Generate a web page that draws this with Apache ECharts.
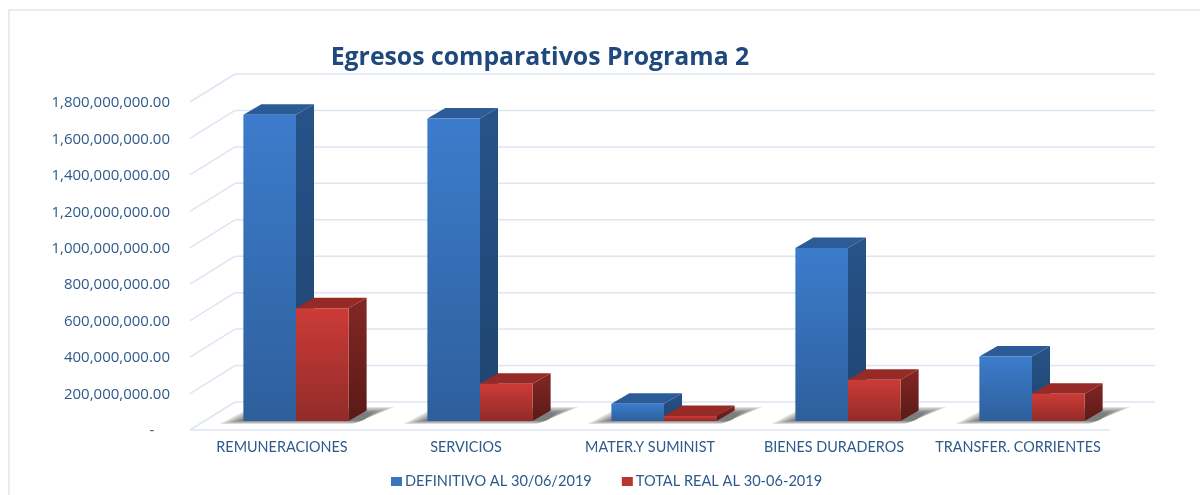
<!DOCTYPE html>
<html>
<head>
<meta charset="utf-8">
<title>Egresos comparativos Programa 2</title>
<style>
html, body { margin: 0; padding: 0; background: #fff; }
#main { width: 1200px; height: 495px; }
</style>
<script src="https://cdn.jsdelivr.net/npm/echarts@6/dist/echarts.min.js"></script>
</head>
<body>
<div id="main"></div>
<script>
var categories = ['REMUNERACIONES', 'SERVICIOS', 'MATER.Y SUMINIST', 'BIENES DURADEROS', 'TRANSFER. CORRIENTES'];
var definitivo = [1680000000, 1660000000, 94000000, 950000000, 354000000];
var totalReal = [619000000, 204000000, 28000000, 226000000, 149000000];
var yTicks = [0, 200000000, 400000000, 600000000, 800000000, 1000000000, 1200000000, 1400000000, 1600000000, 1800000000];

var textColor = '#2f5a8c';
var wallColor = '#dce6f3';

// 3d depth of the chart box and of the bars, in pixels
var boxDepth = [45, -28];
var barStart = [14, -9];
var barDepth = [18, -10.5];
var barShare = 0.286;

function grad(top, bottom) {
    return new echarts.graphic.LinearGradient(0, 0, 0, 1, [
        { offset: 0, color: top },
        { offset: 1, color: bottom }
    ]);
}

function poly(points, fill) {
    return { type: 'polygon', shape: { points: points }, style: { fill: fill } };
}

// back wall and side lines for one tick
function renderWall(params, api) {
    var p = api.coord([0, api.value(0)]);
    var left = params.coordSys.x;
    var right = left + params.coordSys.width;
    var y = p[1];
    var lineStyle = { stroke: wallColor, lineWidth: 1.5, fill: null };
    var children = [
        { type: 'line', shape: { x1: left, y1: y, x2: left + boxDepth[0], y2: y + boxDepth[1] }, style: lineStyle },
        { type: 'line', shape: { x1: left + boxDepth[0], y1: y + boxDepth[1], x2: right + boxDepth[0], y2: y + boxDepth[1] }, style: lineStyle }
    ];
    if (api.value(0) === 0) {
        children.push({ type: 'line', shape: { x1: left, y1: y, x2: right, y2: y }, style: lineStyle });
    }
    return { type: 'group', children: children };
}

// shadow on the floor behind every pair of bars, stacked layers make the soft edge
function renderShadow(params, api) {
    var c = api.coord([api.value(0), 0]);
    var w = api.size([1, 0])[0] * barShare;
    var x = c[0] + barStart[0];
    var y = c[1] + barStart[1];
    var children = [];
    for (var k = 0; k < 8; k++) {
        var s = k * 1.6;
        children.push(poly([
            [x - w - 24 + s * 2, y + 3 - s * 0.3],
            [x + w + 4 + s, y + 3 - s * 0.3],
            [x + w + 46 - s * 2, y - 14 + s * 0.5],
            [x - w + 8 + s, y - 14 + s * 0.5]
        ], 'rgba(60,60,60,0.12)'));
    }
    return { type: 'group', children: children };
}

function barRenderer(side, colors) {
    return function (params, api) {
        var base = api.coord([api.value(0), 0]);
        var top = api.coord([api.value(0), api.value(1)]);
        var w = api.size([1, 0])[0] * barShare;
        var x0 = base[0] + barStart[0] + (side < 0 ? -w : 0);
        var x1 = x0 + w;
        var yb = base[1] + barStart[1];
        var yt = top[1] + barStart[1];
        var dx = barDepth[0];
        var dy = barDepth[1];
        return {
            type: 'group',
            children: [
                poly([[x0, yt], [x1, yt], [x1 + dx, yt + dy], [x0 + dx, yt + dy]], colors.top),
                poly([[x1, yb], [x1, yt], [x1 + dx, yt + dy], [x1 + dx, yb + dy]], grad(colors.sideA, colors.sideB)),
                poly([[x0, yb], [x1, yb], [x1, yt], [x0, yt]], grad(colors.frontA, colors.frontB))
            ]
        };
    };
}

var blue = { top: '#2c5c97', sideA: '#275389', sideB: '#1e4470', frontA: '#3c7ccc', frontB: '#2e5f9c' };
var red = { top: '#962a27', sideA: '#832724', sideB: '#5a1a16', frontA: '#cc3b38', frontB: '#922b28' };

function withIndex(values) {
    return values.map(function (v, i) { return [i, v]; });
}

function formatTick(v) {
    if (v === 0) {
        return '-    ';
    }
    return v.toLocaleString('en-US', { minimumFractionDigits: 2, maximumFractionDigits: 2 });
}

var myChart = echarts.init(document.getElementById('main'), null, { renderer: 'canvas' });
var option = {
    backgroundColor: '#fff',
    animation: false,
    textStyle: { fontFamily: 'Lato' },
    title: {
        text: 'Egresos comparativos Programa 2',
        left: 535,
        textAlign: 'center',
        top: 40,
        textStyle: { color: '#1f497d', fontSize: 24.8, fontWeight: 'bold', fontFamily: 'Open Sans' }
    },
    legend: {
        data: ['DEFINITIVO AL 30/06/2019', 'TOTAL REAL AL 30-06-2019'],
        left: 386,
        top: 469,
        icon: 'rect',
        itemWidth: 11,
        itemHeight: 9,
        itemGap: 30,
        textStyle: { color: textColor, fontSize: 14.6, fontFamily: 'Lato', padding: [0, 0, 0, -2] }
    },
    grid: { left: 190, right: 90, top: 102, bottom: 65 },
    xAxis: {
        type: 'category',
        data: categories,
        axisLine: { show: false },
        axisTick: { show: false },
        axisLabel: { color: textColor, fontSize: 14.4, margin: 10, interval: 0, fontFamily: 'Lato' }
    },
    yAxis: {
        type: 'value',
        min: 0,
        max: 1800000000,
        interval: 200000000,
        axisLine: { show: false },
        axisTick: { show: false },
        splitLine: { show: false },
        axisLabel: { color: textColor, fontSize: 15, margin: 20, formatter: formatTick, fontFamily: 'Open Sans', verticalAlign: 'top', lineHeight: 2 }
    },
    graphic: [{
        type: 'rect',
        silent: true,
        z: -1,
        shape: { x: 9, y: 10, width: 1300, height: 600 },
        style: { fill: null, stroke: wallColor, lineWidth: 1.5 }
    }],
    series: [
        { type: 'custom', name: 'pared', z: 1, renderItem: renderWall, encode: { y: 0 }, data: yTicks.map(function (v) { return [v]; }), silent: true },
        { type: 'custom', name: 'sombra', z: 2, renderItem: renderShadow, encode: { x: 0 }, data: categories.map(function (c, i) { return [i]; }), silent: true },
        { type: 'custom', name: 'DEFINITIVO AL 30/06/2019', z: 3, renderItem: barRenderer(-1, blue), encode: { x: 0, y: 1 }, itemStyle: { color: '#3a76c0' }, data: withIndex(definitivo) },
        { type: 'custom', name: 'TOTAL REAL AL 30-06-2019', z: 4, renderItem: barRenderer(1, red), encode: { x: 0, y: 1 }, itemStyle: { color: '#b93432' }, data: withIndex(totalReal) }
    ]
};
myChart.setOption(option);
</script>
</body>
</html>
